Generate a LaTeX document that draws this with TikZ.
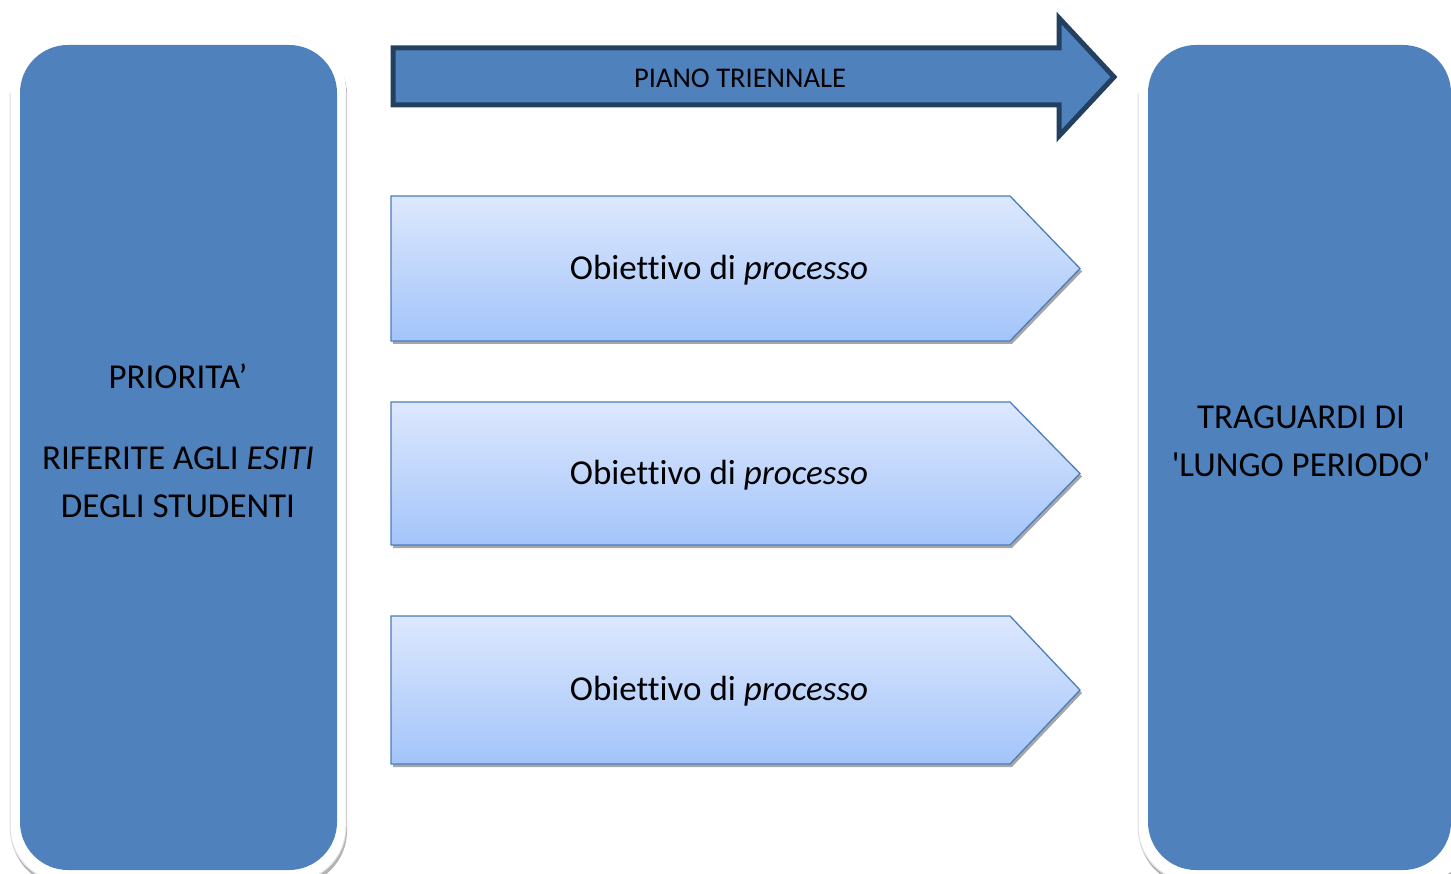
\documentclass[tikz,border=0pt]{standalone}
\usepackage{fontspec}
\setmainfont{Carlito}[Ligatures=NoCommon]
\usetikzlibrary{positioning}
\definecolor{boxblue}{RGB}{79,129,189}
\definecolor{arrowline}{RGB}{36,64,97}
\definecolor{objtop}{RGB}{221,232,253}
\definecolor{objbottom}{RGB}{163,196,250}
\definecolor{objline}{RGB}{74,126,187}

\begin{document}
\begin{tikzpicture}[
  x=1pt, y=1pt,
  bigfont/.style={font=\fontsize{35}{48}\selectfont},
  boxframe/.style={fill=white, rounded corners=55pt},
  framepen/.style={draw=gray!25, line width=1pt, rounded corners=55pt},
  frameshadow/.style={fill=gray!60, rounded corners=55pt},
  bigbox/.style={fill=boxblue, rounded corners=48pt},
  plan/.style={fill=boxblue, draw=arrowline, line width=5pt, line join=miter},
  objective/.style={top color=objtop, bottom color=objbottom, draw=objline, line width=1.3pt, line join=miter},
  objshadow/.style={fill=gray!70},
  txt/.style={inner sep=0pt, align=center, text=black}]

  \useasboundingbox (0,0) rectangle (1451,-874);

  % Left column: priorities
  \fill[frameshadow] (11,-40) rectangle (347,-886);
  \fill[boxframe] (10,-36) rectangle (346,-882);
  \draw[framepen] (10,-93) |- (346,-882) -- (346,-93);
  \fill[bigbox] (20,-45) rectangle (337,-870);
  \node[txt, bigfont] (prio) at (178,-441)
    {PRIORITA’\\[33pt] RIFERITE AGLI \textit{ESITI}\\ DEGLI STUDENTI};

  % Right column: long-term goals
  \fill[frameshadow] (1139,-40) rectangle (1475,-886);
  \fill[boxframe] (1138,-36) rectangle (1474,-882);
  \draw[framepen] (1138,-93) |- (1474,-882);
  \fill[bigbox] (1148,-45) rectangle (1451,-870);
  \node[txt, bigfont] (goal) at (1301,-441)
    {TRAGUARDI DI\\ \textquotesingle LUNGO PERIODO\textquotesingle};

  % The three-year plan arrow
  \draw[plan] (393,-48) -- (1059,-48) -- (1059,-18) -- (1114,-77)
    -- (1059,-136) -- (1059,-105) -- (393,-105) -- cycle;
  \node[txt, font=\fontsize{28.5}{34}\selectfont] (plan) at (740,-78) {PIANO TRIENNALE};

  % Process objectives
  \foreach \ya/\yb/\nm in {196/341/obja, 402/545/objb, 616/764/objc}{
    \pgfmathsetmacro\mid{-(\ya+\yb)/2}
    \fill[objshadow, shift={(2,-3)}] (391,-\ya) -- (1010,-\ya) -- (1080,\mid)
      -- (1010,-\yb) -- (391,-\yb) -- cycle;
    \draw[objective] (391,-\ya) -- (1010,-\ya) -- (1080,\mid)
      -- (1010,-\yb) -- (391,-\yb) -- cycle;
    \node[txt, bigfont] (\nm) at (719,\mid-1.5) {Obiettivo di \textit{processo}};
  }

\end{tikzpicture}
\end{document}
